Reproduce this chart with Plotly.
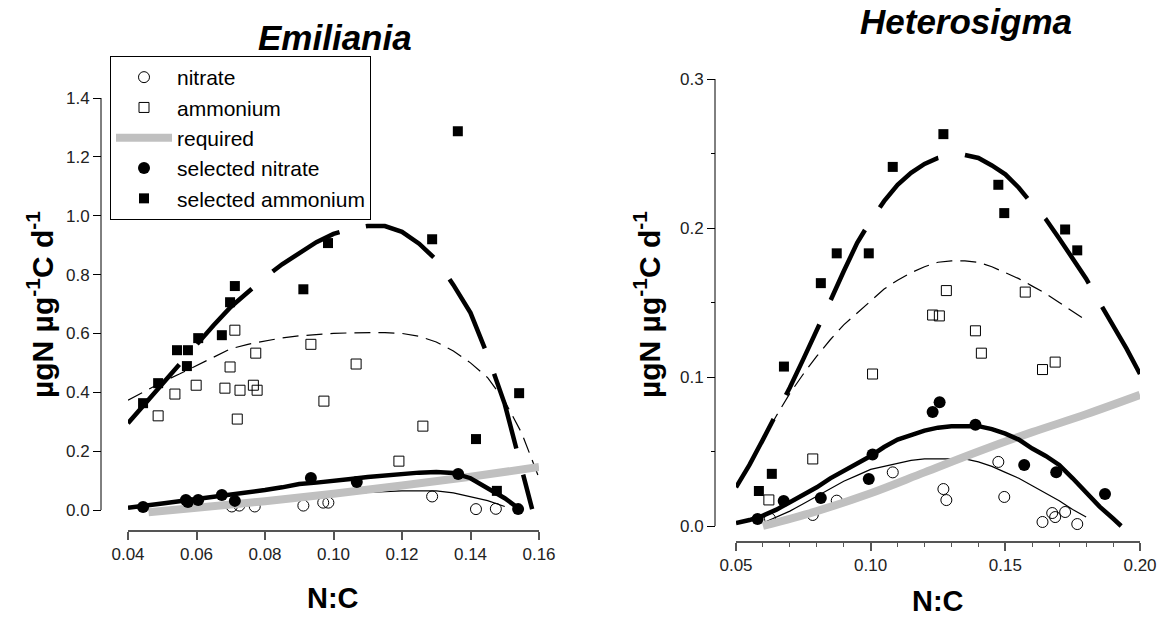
import plotly.graph_objects as go

# ---------------- Emiliania (left) ----------------
emi_nit_x = [0.0703, 0.0725, 0.0770, 0.0912, 0.0970, 0.0985, 0.1288, 0.1416, 0.1474]
emi_nit_y = [0.012, 0.015, 0.012, 0.015, 0.025, 0.025, 0.046, 0.003, 0.004]
emi_amm_x = [0.0488, 0.0537, 0.0599, 0.0683, 0.0698, 0.0712, 0.0719, 0.0727, 0.0766, 0.0773,
             0.0777, 0.0934, 0.0972, 0.1066, 0.1191, 0.1261]
emi_amm_y = [0.320, 0.394, 0.424, 0.414, 0.486, 0.611, 0.309, 0.407, 0.424, 0.533,
             0.407, 0.563, 0.370, 0.496, 0.166, 0.285]
emi_selnit_x = [0.0444, 0.0569, 0.0575, 0.0605, 0.0674, 0.0712, 0.0934, 0.1068, 0.1364, 0.1539]
emi_selnit_y = [0.010, 0.034, 0.027, 0.034, 0.051, 0.031, 0.109, 0.095, 0.122, 0.003]
emi_selamm_x = [0.0444, 0.0488, 0.0543, 0.0572, 0.0575, 0.0605, 0.0674, 0.0698, 0.0712, 0.0912,
                0.0984, 0.1288, 0.1363, 0.1416, 0.1477, 0.1542]
emi_selamm_y = [0.363, 0.431, 0.543, 0.489, 0.543, 0.584, 0.594, 0.706, 0.761, 0.750,
                0.907, 0.920, 1.287, 0.241, 0.065, 0.397]

# fitted curves
emi_fit_selamm_x = [0.040, 0.045, 0.050, 0.055, 0.060, 0.065, 0.070, 0.075, 0.080, 0.085, 0.090,
                    0.095, 0.100, 0.105, 0.110, 0.115, 0.120, 0.125, 0.130, 0.135, 0.140, 0.145,
                    0.150, 0.155, 0.158]
emi_fit_selamm_y = [0.295, 0.362, 0.430, 0.497, 0.565, 0.628, 0.690, 0.742, 0.790, 0.835, 0.872,
                    0.910, 0.938, 0.955, 0.965, 0.965, 0.945, 0.905, 0.850, 0.765, 0.670, 0.525,
                    0.360, 0.140, 0.003]
emi_fit_amm_x = [0.040, 0.045, 0.050, 0.055, 0.060, 0.065, 0.070, 0.075, 0.080, 0.085, 0.090,
                 0.095, 0.100, 0.105, 0.110, 0.115, 0.120, 0.125, 0.130, 0.135, 0.140, 0.145,
                 0.150, 0.155, 0.1597]
emi_fit_amm_y = [0.373, 0.405, 0.435, 0.462, 0.490, 0.520, 0.548, 0.563, 0.575, 0.585, 0.592,
                 0.597, 0.600, 0.602, 0.603, 0.603, 0.600, 0.590, 0.571, 0.540, 0.500, 0.450,
                 0.370, 0.260, 0.118]
emi_fit_selnit_x = [0.040, 0.045, 0.050, 0.055, 0.060, 0.065, 0.070, 0.075, 0.080, 0.085, 0.090,
                    0.095, 0.100, 0.105, 0.110, 0.115, 0.120, 0.125, 0.130, 0.135, 0.140, 0.145,
                    0.150, 0.154]
emi_fit_selnit_y = [0.008, 0.014, 0.022, 0.030, 0.037, 0.045, 0.052, 0.060, 0.068, 0.077, 0.088,
                    0.093, 0.098, 0.105, 0.112, 0.118, 0.123, 0.127, 0.129, 0.126, 0.108, 0.074,
                    0.040, 0.006]
emi_fit_nit_x = [0.046, 0.060, 0.080, 0.100, 0.110, 0.120, 0.125, 0.130, 0.135, 0.140, 0.145, 0.150]
emi_fit_nit_y = [0.000, 0.012, 0.030, 0.050, 0.060, 0.065, 0.066, 0.065, 0.058, 0.045, 0.032, 0.012]
emi_req_x = [0.046, 0.060, 0.080, 0.100, 0.120, 0.140, 0.160]
emi_req_y = [-0.008, 0.008, 0.030, 0.055, 0.083, 0.113, 0.146]

# ---------------- Heterosigma (right) ----------------
het_nit_x = [0.0626, 0.0785, 0.0874, 0.1082, 0.1270, 0.1281, 0.1474, 0.1496, 0.1638, 0.1674,
             0.1685, 0.1722, 0.1767]
het_nit_y = [0.005, 0.0074, 0.017, 0.036, 0.0248, 0.0174, 0.043, 0.0195, 0.0027, 0.0087,
             0.006, 0.0094, 0.0013]
het_amm_x = [0.0622, 0.0785, 0.1007, 0.1230, 0.1255, 0.1281, 0.1389, 0.1411, 0.1574, 0.1638, 0.1685]
het_amm_y = [0.0175, 0.045, 0.102, 0.1416, 0.141, 0.158, 0.131, 0.116, 0.157, 0.105, 0.110]
het_selnit_x = [0.0580, 0.0677, 0.0815, 0.0993, 0.1007, 0.1230, 0.1256, 0.1389, 0.1570, 0.1689, 0.1870]
het_selnit_y = [0.0047, 0.0168, 0.0188, 0.0315, 0.048, 0.0765, 0.083, 0.068, 0.041, 0.036, 0.0215]
het_selamm_x = [0.0585, 0.0633, 0.0678, 0.0815, 0.0874, 0.0993, 0.1082, 0.1270, 0.1474, 0.1496,
                0.1722, 0.1767]
het_selamm_y = [0.0235, 0.035, 0.107, 0.163, 0.183, 0.183, 0.241, 0.263, 0.229, 0.210, 0.199, 0.185]

het_fit_selamm_x = [0.050, 0.055, 0.060, 0.065, 0.070, 0.075, 0.080, 0.085, 0.090, 0.095, 0.100,
                    0.105, 0.110, 0.115, 0.120, 0.125, 0.130, 0.135, 0.140, 0.145, 0.150, 0.155,
                    0.160, 0.165, 0.170, 0.175, 0.180, 0.185, 0.190, 0.195, 0.200]
het_fit_selamm_y = [0.026, 0.041, 0.058, 0.075, 0.093, 0.112, 0.131, 0.151, 0.171, 0.190, 0.205,
                    0.218, 0.229, 0.237, 0.243, 0.247, 0.249, 0.249, 0.247, 0.242, 0.236, 0.227,
                    0.216, 0.206, 0.193, 0.180, 0.166, 0.150, 0.135, 0.119, 0.102]
het_fit_amm_x = [0.058, 0.060, 0.065, 0.070, 0.075, 0.080, 0.085, 0.090, 0.095, 0.100, 0.105,
                 0.110, 0.115, 0.120, 0.125, 0.130, 0.135, 0.140, 0.145, 0.150, 0.155, 0.160,
                 0.165, 0.170, 0.175, 0.180]
het_fit_amm_y = [0.052, 0.058, 0.074, 0.089, 0.102, 0.114, 0.125, 0.135, 0.143, 0.151, 0.159,
                 0.165, 0.170, 0.174, 0.177, 0.178, 0.178, 0.177, 0.174, 0.170, 0.166, 0.161,
                 0.156, 0.150, 0.144, 0.138]
het_fit_selnit_x = [0.050, 0.055, 0.060, 0.065, 0.070, 0.075, 0.080, 0.085, 0.090, 0.095, 0.100,
                    0.105, 0.110, 0.115, 0.120, 0.125, 0.130, 0.135, 0.140, 0.145, 0.150, 0.155,
                    0.160, 0.165, 0.170, 0.175, 0.180, 0.185, 0.190, 0.193]
het_fit_selnit_y = [0.002, 0.004, 0.007, 0.011, 0.016, 0.021, 0.026, 0.032, 0.037, 0.042, 0.047,
                    0.053, 0.058, 0.061, 0.064, 0.066, 0.067, 0.067, 0.067, 0.065, 0.062, 0.058,
                    0.052, 0.047, 0.041, 0.032, 0.022, 0.013, 0.005, 0.000]
het_fit_nit_x = [0.060, 0.065, 0.070, 0.075, 0.080, 0.085, 0.090, 0.095, 0.100, 0.105, 0.110,
                 0.115, 0.120, 0.125, 0.130, 0.135, 0.140, 0.145, 0.150, 0.155, 0.160, 0.165,
                 0.170, 0.175, 0.180]
het_fit_nit_y = [0.002, 0.006, 0.010, 0.015, 0.020, 0.025, 0.030, 0.034, 0.038, 0.040, 0.042,
                 0.044, 0.045, 0.045, 0.045, 0.045, 0.043, 0.040, 0.036, 0.032, 0.027, 0.022,
                 0.017, 0.011, 0.006]
het_req_x = [0.060, 0.080, 0.100, 0.120, 0.140, 0.160, 0.180, 0.200]
het_req_y = [0.000, 0.010, 0.022, 0.036, 0.050, 0.063, 0.075, 0.088]

# tick labels
emi_xticks = [0.04, 0.06, 0.08, 0.10, 0.12, 0.14, 0.16]
emi_yticks = [0.0, 0.2, 0.4, 0.6, 0.8, 1.0, 1.2, 1.4]
het_xticks = [0.05, 0.10, 0.15, 0.20]
het_yticks = [0.0, 0.1, 0.2, 0.3]

legend_names = ["nitrate", "ammonium", "required", "selected nitrate", "selected ammonium"]

FONT = "Liberation Sans, Arial, sans-serif"
W, H = 1164, 619
GRAY = "#c0c0c0"

fig = go.Figure()


def add_panel(xa, ya, nit, amm, selnit, selamm, f_nit, f_amm, f_selnit, f_selamm, req, legend):
    thin_dash = "16px,8px"
    thick_dash = "78px,27px"
    fig.add_trace(go.Scatter(x=nit[0], y=nit[1], mode="markers", xaxis=xa, yaxis=ya,
                             name=legend_names[0], showlegend=legend, legendrank=1,
                             marker=dict(symbol="circle-open", size=11, color="black",
                                         line=dict(width=1))))
    fig.add_trace(go.Scatter(x=amm[0], y=amm[1], mode="markers", xaxis=xa, yaxis=ya,
                             name=legend_names[1], showlegend=legend, legendrank=2,
                             marker=dict(symbol="square-open", size=10, color="black",
                                         line=dict(width=1))))
    fig.add_trace(go.Scatter(x=f_nit[0], y=f_nit[1], mode="lines", xaxis=xa, yaxis=ya,
                             showlegend=False, line=dict(color="black", width=1.2)))
    fig.add_trace(go.Scatter(x=f_amm[0], y=f_amm[1], mode="lines", xaxis=xa, yaxis=ya,
                             showlegend=False, line=dict(color="black", width=1.2, dash=thin_dash)))
    fig.add_trace(go.Scatter(x=req[0], y=req[1], mode="lines", xaxis=xa, yaxis=ya,
                             name=legend_names[2], showlegend=legend, legendrank=3,
                             line=dict(color=GRAY, width=8, shape="spline")))
    fig.add_trace(go.Scatter(x=f_selnit[0], y=f_selnit[1], mode="lines", xaxis=xa, yaxis=ya,
                             showlegend=False, line=dict(color="black", width=4.5)))
    fig.add_trace(go.Scatter(x=f_selamm[0], y=f_selamm[1], mode="lines", xaxis=xa, yaxis=ya,
                             showlegend=False, line=dict(color="black", width=4.5, dash=thick_dash)))
    fig.add_trace(go.Scatter(x=selnit[0], y=selnit[1], mode="markers", xaxis=xa, yaxis=ya,
                             name=legend_names[3], showlegend=legend, legendrank=4,
                             marker=dict(symbol="circle", size=12, color="black")))
    fig.add_trace(go.Scatter(x=selamm[0], y=selamm[1], mode="markers", xaxis=xa, yaxis=ya,
                             name=legend_names[4], showlegend=legend, legendrank=5,
                             marker=dict(symbol="square", size=10, color="black")))


add_panel("x", "y",
          (emi_nit_x, emi_nit_y), (emi_amm_x, emi_amm_y),
          (emi_selnit_x, emi_selnit_y), (emi_selamm_x, emi_selamm_y),
          (emi_fit_nit_x, emi_fit_nit_y), (emi_fit_amm_x, emi_fit_amm_y),
          (emi_fit_selnit_x, emi_fit_selnit_y), (emi_fit_selamm_x, emi_fit_selamm_y),
          (emi_req_x, emi_req_y), True)
add_panel("x2", "y2",
          (het_nit_x, het_nit_y), (het_amm_x, het_amm_y),
          (het_selnit_x, het_selnit_y), (het_selamm_x, het_selamm_y),
          (het_fit_nit_x, het_fit_nit_y), (het_fit_amm_x, het_fit_amm_y),
          (het_fit_selnit_x, het_fit_selnit_y), (het_fit_selamm_x, het_fit_selamm_y),
          (het_req_x, het_req_y), False)


def px(v):
    return v / W


def py(v):
    return 1 - v / H


tickfont = dict(family=FONT, size=17, color="#222")
xcommon = dict(showgrid=False, zeroline=False, showline=True, linecolor="#555", linewidth=1.5,
               ticks="outside", ticklen=8, tickwidth=1.5, tickcolor="#555", tickfont=tickfont,
               tickformat=".2f", automargin=False)
ycommon = dict(showgrid=False, zeroline=False, showline=False, ticks="outside", ticklen=8,
               tickwidth=1, tickcolor="black", tickfont=tickfont, tickformat=".1f",
               automargin=False)

fig.update_layout(
    width=W, height=H, margin=dict(l=0, r=0, t=0, b=0, pad=0, autoexpand=False),
    autosize=False,
    paper_bgcolor="white", plot_bgcolor="white",
    font=dict(family=FONT, color="black"),
    xaxis=dict(domain=[px(128), px(539)], range=[0.04, 0.16], anchor="y",
               tickvals=emi_xticks, **xcommon),
    yaxis=dict(domain=[py(530), py(98)], range=[-0.06796, 1.4], anchor="free", position=px(101),
               tickvals=emi_yticks, **ycommon),
    xaxis2=dict(domain=[px(736), px(1140)], range=[0.05, 0.20], anchor="y2",
                tickvals=het_xticks,
                minor=dict(dtick=0.01, tick0=0.05, ticks="outside", ticklen=4, tickwidth=1.2,
                           tickcolor="#555"),
                **xcommon),
    yaxis2=dict(domain=[py(541), py(79)], range=[-0.010067, 0.3], anchor="free", position=px(715),
                tickvals=het_yticks,
                minor=dict(dtick=0.05, tick0=0, ticks="outside", ticklen=4, tickwidth=1,
                           tickcolor="black"),
                **ycommon),
    legend=dict(x=px(110), y=py(56), xanchor="left", yanchor="top",
                bordercolor="black", borderwidth=1, bgcolor="white",
                font=dict(family=FONT, size=21, color="black"),
                itemwidth=56, tracegroupgap=0),
    showlegend=True,
)

fig.add_shape(type="line", xref="paper", yref="y", x0=px(101), x1=px(101), y0=0, y1=1.4,
              line=dict(color="black", width=1))
fig.add_shape(type="line", xref="paper", yref="y2", x0=px(715), x1=px(715), y0=0, y1=0.3,
              line=dict(color="black", width=1))

ytitle = "µgN µg<sup>-1</sup>C d<sup>-1</sup>"
annots = [
    dict(text="<b><i>Emiliania</i></b>", x=px(335), y=py(37), size=35),
    dict(text="<b><i>Heterosigma</i></b>", x=px(966), y=py(22), size=35),
    dict(text="<b>N:C</b>", x=px(333), y=py(598), size=29),
    dict(text="<b>N:C</b>", x=px(938), y=py(601), size=29),
]
for a in annots:
    fig.add_annotation(text=a["text"], x=a["x"], y=a["y"], xref="paper", yref="paper",
                       showarrow=False, xanchor="center", yanchor="middle",
                       font=dict(family=FONT, size=a["size"], color="black"))
for xpos in (40, 647):
    fig.add_annotation(text="<b>" + ytitle + "</b>", x=px(xpos), y=py(305), xref="paper",
                       yref="paper", showarrow=False, textangle=-90, xanchor="center",
                       yanchor="middle", font=dict(family=FONT, size=30, color="black"))

fig.write_html("out.html", config={"displayModeBar": False},
               post_script="document.body.style.margin='0';document.body.style.overflow='hidden';")
